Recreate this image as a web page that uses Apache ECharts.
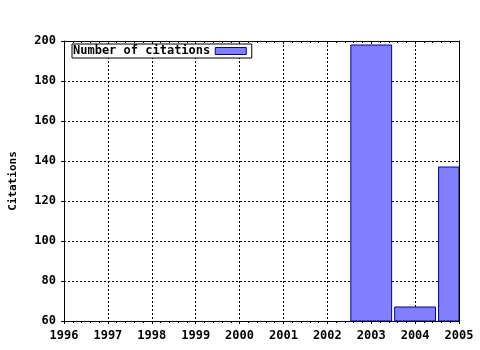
<!DOCTYPE html>
<html><head><meta charset="utf-8">
<script src="https://cdn.jsdelivr.net/npm/echarts@6/dist/echarts.min.js"></script>
<style>html,body{margin:0;padding:0;background:#fff}#c{width:480px;height:350px}</style>
</head><body><div id="c"></div>
<script>
const years = [2003, 2004, 2005];
const citations = [198, 67, 137];
const seriesName = 'Number of citations';
const yAxisName = 'Citations';

const FONT = 'DejaVu Sans Mono';
const BAR_FRACTION = 0.93;
const chart = echarts.init(document.getElementById('c'), null, {renderer: 'canvas'});
const xBase = {
  type: 'value', min: 1996, max: 2005, interval: 1,
  axisLine: {show: true, lineStyle: {color: '#000', width: 1}},
  splitLine: {show: false}
};
function renderBar(params, api) {
  const x = api.value(0), v = api.value(1);
  const top = api.coord([x, v]);
  const base = api.coord([x, 60]);
  const w = api.size([1, 0])[0] * BAR_FRACTION;
  const rect = echarts.graphic.clipRectByRect(
    {x: top[0] - w / 2, y: top[1], width: w, height: base[1] - top[1]},
    {x: params.coordSys.x, y: params.coordSys.y, width: params.coordSys.width, height: params.coordSys.height}
  );
  if (!rect) return;
  return {type: 'rect', shape: rect, style: api.style({fill: '#8080ff', stroke: '#00008b', lineWidth: 1})};
}
chart.setOption({
  animation: false,
  backgroundColor: '#fff',
  grid: {left: 64, right: 21, top: 41, bottom: 29, containLabel: false},
  legend: {
    left: 72, top: 44, align: 'right', orient: 'horizontal',
    itemWidth: 31, itemHeight: 7, padding: [1, 5, 1, 1],
    borderColor: '#000', borderWidth: 1, backgroundColor: '#fff',
    textStyle: {fontFamily: FONT, fontWeight: 'bold', fontSize: 12, color: '#000'},
    data: [{name: seriesName, icon: 'rect', itemStyle: {color: '#8080ff', borderColor: '#00008b', borderWidth: 1}}]
  },
  xAxis: [
    Object.assign({}, xBase, {
      position: 'bottom',
      axisTick: {show: true, length: 3, lineStyle: {color: '#000'}},
      minorTick: {show: true, splitNumber: 5, length: 2, lineStyle: {color: '#000'}},
      axisLabel: {fontFamily: FONT, fontWeight: 'bold', fontSize: 12, color: '#000', margin: 9, formatter: v => String(v)},
      splitLine: {show: true, lineStyle: {color: '#000', type: [2, 2], width: 1}}
    }),
    Object.assign({}, xBase, {
      position: 'top',
      axisTick: {show: true, inside: true, length: 3, lineStyle: {color: '#000'}},
      minorTick: {show: true, splitNumber: 5, length: 2, lineStyle: {color: '#000'}},
      axisLabel: {show: false}
    })
  ],
  yAxis: [
    {
      type: 'value', min: 60, max: 200, interval: 20, position: 'left',
      name: yAxisName, nameLocation: 'middle', nameGap: 45, nameRotate: 90,
      nameTextStyle: {fontFamily: FONT, fontWeight: 'bold', fontSize: 11, color: '#000'},
      axisLine: {show: true, lineStyle: {color: '#000', width: 1}},
      axisTick: {show: true, length: 3, lineStyle: {color: '#000'}},
      axisLabel: {fontFamily: FONT, fontWeight: 'bold', fontSize: 12, color: '#000', margin: 8},
      splitLine: {show: true, lineStyle: {color: '#000', type: [2, 2], width: 1}}
    },
    {
      type: 'value', min: 60, max: 200, interval: 20, position: 'right',
      axisLine: {show: true, lineStyle: {color: '#000', width: 1}},
      axisTick: {show: false}, axisLabel: {show: false}, splitLine: {show: false}
    }
  ],
  series: [{
    name: seriesName, type: 'custom', xAxisIndex: 0, yAxisIndex: 0,
    renderItem: renderBar, clip: true,
    itemStyle: {color: '#8080ff', borderColor: '#00008b', borderWidth: 1},
    encode: {x: 0, y: 1},
    data: years.map((y, i) => [y, citations[i]])
  }]
});
</script></body></html>
